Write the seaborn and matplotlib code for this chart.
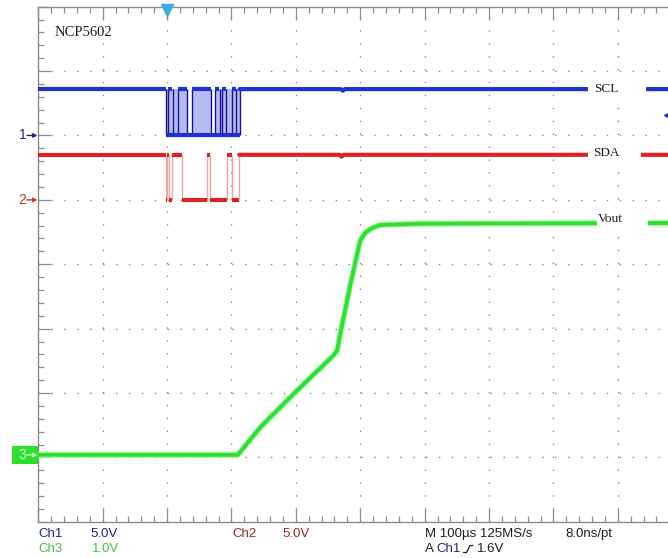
import matplotlib
matplotlib.use("Agg")
import matplotlib.pyplot as plt
import matplotlib.transforms as mtransforms
from matplotlib.patches import Rectangle
from matplotlib.lines import Line2D
from matplotlib.ticker import MultipleLocator
import numpy as np
import pandas as pd
import seaborn as sns

# ---------------- acquisition settings ----------------
T_LEFT = -200.0          # us at left screen edge (trigger at t = 0)
US_PER_DIV = 100.0       # M 100 us
ch1_scale = 5.0          # V/div
ch2_scale = 5.0
ch3_scale = 1.0
ch1_ground = 6.0         # ground reference, divisions from bottom
ch2_ground = 5.0
ch3_ground = 1.04
trigger_level = 1.6      # V on Ch1

# ---------------- Ch1 : SCL ----------------
scl_high = 3.6
scl_high_start = [-200, 2, 17.5, 38.5, 75, 85.5, 101]
scl_high_end = [-1, 8, 30.5, 68, 81, 92, 107.5]
scl_tail_t = [112.5, 270, 273, 276, 778]
scl_tail_v = [3.6, 3.6, 3.48, 3.6, 3.6]
scl_burst_start = [-1, 38.5, 75]
scl_burst_end = [30.5, 68, 112.5]
scl_edges = [-1, 2, 9, 17.5, 30.5, 38.5, 68, 75, 82, 85.5, 92, 101, 107.5, 112.5]

# ---------------- Ch2 : SDA ----------------
sda_high = 3.5
sda_change_t = [-1.5, 0, 3, 8, 23.5, 62, 66, 93, 101, 112]
sda_level_after = [0, 3.5, 0, 3.5, 0, 3.5, 0, 3.5, 0, 3.5]
sda_tail_t = [112, 268, 271, 274, 778]
sda_tail_v = [3.5, 3.5, 3.35, 3.5, 3.5]

# ---------------- Ch3 : Vout ----------------
vout_t = [-200, 110, 145, 202, 259, 264, 269, 285, 300, 308, 316, 331, 393, 778]
vout_v = [0.0, 0.0, 0.43, 1.0, 1.55, 1.62, 1.88, 2.66, 3.33, 3.45, 3.51, 3.57, 3.59, 3.6]

# ---------------- colours ----------------
BLUE = "#1e32d2"
BLUE_EDGE = "#16168a"
BLUE_FILL = "#b6baf4"
RED = "#dc2323"
RED_EDGE = "#f2a4a4"
GREEN = "#2ee02e"
GREEN_GLOW = "#a6f4a6"
NAVY = "#24247e"
DARKRED = "#902c2c"
TXTGREEN = "#46c446"
FRAME = "#8e8e8e"
GRID = "#8c8c8c"

sns.set_style("white")
plt.rcParams["font.family"] = ["Liberation Sans", "DejaVu Sans"]

W, H = 668, 558
fig = plt.figure(figsize=(W / 100, H / 100), dpi=100)
fig.patch.set_facecolor("white")

ax_left, ax_top, ax_bottom = 38.3, 6.7, 521.8
div_px = (ax_bottom - ax_top) / 8.0
ax = fig.add_axes([ax_left / W, (H - ax_bottom) / H, (W - ax_left) / W, (ax_bottom - ax_top) / H])
ax.set_xlim(T_LEFT, T_LEFT + (W - ax_left) / div_px * US_PER_DIV)
ax.set_ylim(0, 8)
ax.set_facecolor("white")

# graticule
for side in ("left", "top", "bottom"):
    ax.spines[side].set_color(FRAME)
    ax.spines[side].set_linewidth(1.0)
ax.spines["right"].set_visible(False)
ax.xaxis.set_major_locator(MultipleLocator(US_PER_DIV))
ax.xaxis.set_minor_locator(MultipleLocator(US_PER_DIV / 5))
ax.yaxis.set_major_locator(MultipleLocator(1))
ax.yaxis.set_minor_locator(MultipleLocator(0.2))
ax.tick_params(which="both", direction="in", colors=FRAME, top=True, bottom=True,
               left=True, right=False, labelbottom=False, labelleft=False, width=0.9)
ax.tick_params(which="major", length=9.5)
ax.tick_params(which="minor", length=4)
ax.grid(which="major", color=GRID, linestyle=(0, (1, 8.3)), linewidth=1.0)
ax.set_axisbelow(True)


def ch1(v):
    return ch1_ground + np.asarray(v, dtype=float) / ch1_scale


def ch2(v):
    return ch2_ground + np.asarray(v, dtype=float) / ch2_scale


def ch3(v):
    return ch3_ground + np.asarray(v, dtype=float) / ch3_scale


LW = 3.0

# ---- SCL ----
for s, e in zip(scl_burst_start, scl_burst_end):
    ax.fill_between([s, e], float(ch1(0)), float(ch1(scl_high)), color=BLUE_FILL,
                    lw=0, zorder=2)
ax.vlines(scl_edges, float(ch1(0)), float(ch1(scl_high)), color=BLUE_EDGE, lw=1.0, zorder=3)
ax.hlines([float(ch1(0))], [scl_burst_start[0]], [scl_burst_end[-1]], color=BLUE,
          lw=LW, zorder=4)
ax.hlines(np.full(len(scl_high_start), float(ch1(scl_high))), scl_high_start,
          scl_high_end, color=BLUE, lw=LW, zorder=4)
scl_df = pd.DataFrame({"t": scl_tail_t, "y": ch1(scl_tail_v)})
sns.lineplot(data=scl_df, x="t", y="y", ax=ax, color=BLUE, lw=LW, sort=False,
             estimator=None, zorder=4)

# ---- SDA ----
seg_start = [T_LEFT] + sda_change_t[:-1]
seg_end = sda_change_t
seg_level = [sda_high] + sda_level_after[:-1]
ax.vlines(sda_change_t, float(ch2(0)), float(ch2(sda_high)), color=RED_EDGE, lw=1.0, zorder=3)
ax.hlines(ch2(seg_level), seg_start, seg_end, color=RED, lw=LW, zorder=4)
sda_df = pd.DataFrame({"t": sda_tail_t, "y": ch2(sda_tail_v)})
sns.lineplot(data=sda_df, x="t", y="y", ax=ax, color=RED, lw=LW, sort=False,
             estimator=None, zorder=4)

# ---- Vout ----
vout_df = pd.DataFrame({"t": vout_t, "y": ch3(vout_v)})
sns.lineplot(data=vout_df, x="t", y="y", ax=ax, color=GREEN_GLOW, lw=4.4, sort=False,
             estimator=None, zorder=3, solid_capstyle="round")
sns.lineplot(data=vout_df, x="t", y="y", ax=ax, color=GREEN, lw=2.7, sort=False,
             estimator=None, zorder=4, solid_capstyle="round")
ax.set_xlabel("")
ax.set_ylabel("")

# trigger position and trigger level markers
ax.plot([0], [7.955], marker="v", color="#3aaee0", markersize=8, clip_on=False,
        zorder=6, lw=0)
ax.plot([781], [float(ch1(trigger_level))], marker="<", color=BLUE, markersize=8.5,
        zorder=6, lw=0)

# channel ground markers
trans = mtransforms.blended_transform_factory(fig.transFigure, ax.transData)
ax.add_patch(Rectangle((11.7 / W, ch3_ground - 0.145), (ax_left - 11.7) / W, 0.29,
                       transform=trans, color="#2ee02e", lw=0, clip_on=False, zorder=5))
for lvl, lab, col in [(ch1_ground, "1", NAVY), (ch2_ground, "2", "#c83232"),
                      (ch3_ground, "3", "#c4f6c4")]:
    ax.text(22.5 / W, lvl, lab, transform=trans, color=col, fontsize=10,
            ha="center", va="center", clip_on=False, zorder=6)
    ax.annotate("", xy=(37.5 / W, lvl), xytext=(27 / W, lvl), xycoords=trans,
                textcoords=trans, annotation_clip=False, zorder=6,
                arrowprops=dict(arrowstyle="-|>", color=col, lw=1.0,
                                mutation_scale=6, shrinkA=0, shrinkB=0))


def fx(px):
    return px / W


def fy(py):
    return 1 - py / H


# waveform labels on white boxes
for (x0, x1, y0, y1) in [(588, 645.7, 81, 98), (588, 641, 145, 163), (597, 648, 211, 232)]:
    fig.add_artist(Rectangle((fx(x0), fy(y1)), (x1 - x0) / W, (y1 - y0) / H,
                             transform=fig.transFigure, color="white", lw=0, zorder=2))
serif = ["Liberation Serif", "DejaVu Serif"]
fig.text(fx(55), fy(32), "NCP5602", family=serif, fontsize=10.5, color="#1e1e1e",
         ha="left", va="center", zorder=3)
fig.text(fx(594.5), fy(89.5), "SCL", family=serif, fontsize=9.5, color="#1e1e1e",
         ha="left", va="center", zorder=3)
fig.text(fx(593), fy(153), "SDA", family=serif, fontsize=9.5, color="#1e1e1e",
         ha="left", va="center", zorder=3)
fig.text(fx(597.5), fy(219), "Vout", family=serif, fontsize=9.5, color="#1e1e1e",
         ha="left", va="center", zorder=3)

# readout
row1, row2 = 534, 549
FS = 9.5
for x, y, s, c in [(38.3, row1, "Ch1", NAVY), (90.7, row1, "5.0V", NAVY),
                   (232.3, row1, "Ch2", DARKRED), (282.7, row1, "5.0V", DARKRED),
                   (425, row1, "M 100\u00b5s 125MS/s", "#202020"),
                   (565, row1, "8.0ns/pt", "#202020"),
                   (38.3, row2, "Ch3", TXTGREEN), (91.7, row2, "1.0V", TXTGREEN),
                   (425, row2, "A", "#202020"), (436, row2, "Ch1", NAVY),
                   (477, row2, "1.6V", "#202020")]:
    fig.text(fx(x), fy(y), s, color=c, fontsize=FS, ha="left", va="center")
# rising-edge slope symbol
fig.add_artist(Line2D([fx(463.5), fx(466.5), fx(470), fx(473)],
                      [fy(552.5), fy(552.5), fy(545.5), fy(545.5)],
                      transform=fig.transFigure, color="#202020", lw=0.9))

fig.savefig("out.png", dpi=100, facecolor="white")
